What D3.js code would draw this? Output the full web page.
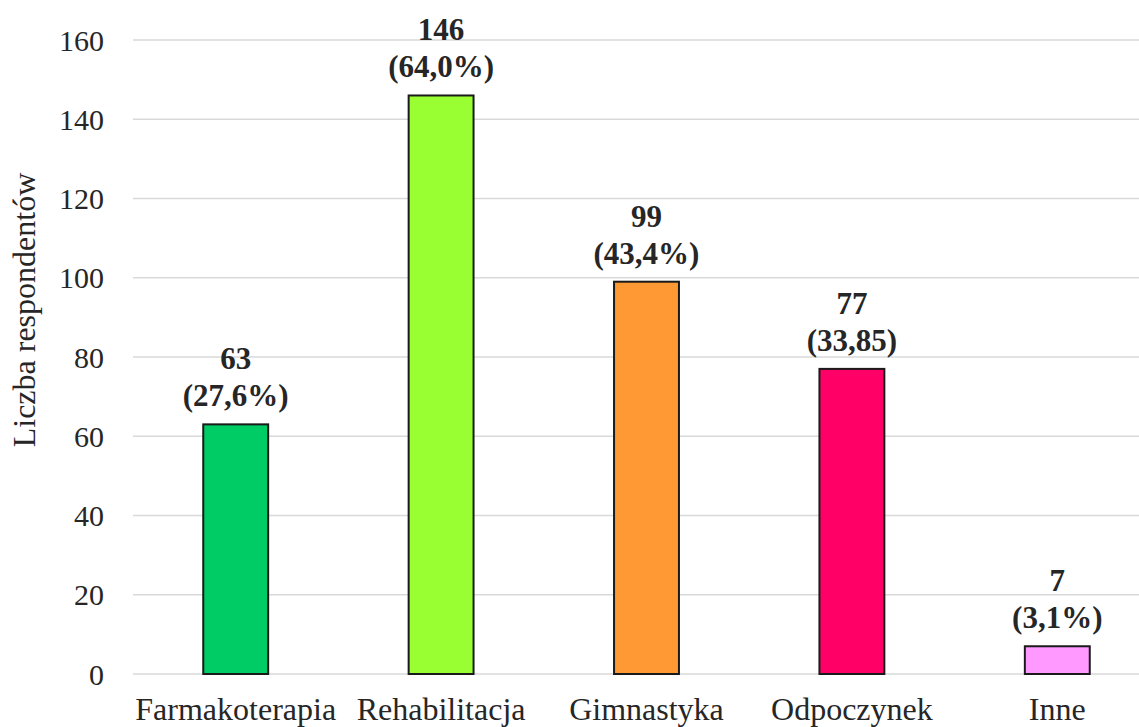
<!DOCTYPE html>
<html>
<head>
<meta charset="utf-8">
<script src="https://cdn.jsdelivr.net/npm/d3@7"></script>
<style>
  html, body { margin: 0; padding: 0; background: #fff; overflow: hidden; }
</style>
</head>
<body>
<div id="chart"></div>
<script>
// Values
const categories = ["Farmakoterapia", "Rehabilitacja", "Gimnastyka", "Odpoczynek", "Inne"];
const counts = [63, 146, 99, 77, 7];
const percentLabels = ["(27,6%)", "(64,0%)", "(43,4%)", "(33,85)", "(3,1%)"];
const barColors = ["#00cc66", "#99ff33", "#ff9933", "#ff0066", "#ff99ff"];
const yTicks = [0, 20, 40, 60, 80, 100, 120, 140, 160];

const width = 1139, height = 727;
const margin = { top: 40, right: -21, bottom: 53, left: 133 };
const serif = "'Liberation Serif', 'Times New Roman'";

const svg = d3.select("#chart").append("svg")
  .attr("width", width)
  .attr("height", height);

const x = d3.scaleBand()
  .domain(categories)
  .range([margin.left, width - margin.right])
  .paddingInner(0.684)
  .paddingOuter(0.342);

const y = d3.scaleLinear()
  .domain([0, 160])
  .range([height - margin.bottom, margin.top]);

// gridlines
svg.append("g")
  .selectAll("line")
  .data(yTicks)
  .join("line")
  .attr("x1", margin.left)
  .attr("x2", width)
  .attr("y1", d => y(d))
  .attr("y2", d => y(d))
  .attr("stroke", "#d9d9d9")
  .attr("stroke-width", 1.5);

// y tick labels
svg.append("g")
  .selectAll("text")
  .data(yTicks)
  .join("text")
  .attr("x", 104)
  .attr("y", d => y(d))
  .attr("dy", "0.35em")
  .attr("text-anchor", "end")
  .style("font-family", serif)
  .attr("font-size", 30)
  .attr("fill", "#262626")
  .text(d => d);

// y axis title
svg.append("text")
  .attr("transform", `translate(35, ${(y(0) + y(160)) / 2 - 47}) rotate(-90)`)
  .attr("text-anchor", "middle")
  .style("font-family", serif)
  .attr("font-size", 32)
  .attr("fill", "#262626")
  .text("Liczba respondentów");

// bars
svg.append("g")
  .selectAll("rect")
  .data(counts)
  .join("rect")
  .attr("x", (d, i) => x(categories[i]))
  .attr("y", d => y(d))
  .attr("width", x.bandwidth())
  .attr("height", d => y(0) - y(d))
  .attr("fill", (d, i) => barColors[i])
  .attr("stroke", "#1a1a1a")
  .attr("stroke-width", 2);

// value labels: count on top, share below it
const labels = svg.append("g")
  .selectAll("g")
  .data(counts)
  .join("g")
  .attr("transform", (d, i) => `translate(${x(categories[i]) + x.bandwidth() / 2}, ${y(d)})`);

labels.append("text")
  .attr("y", -55)
  .attr("text-anchor", "middle")
  .style("font-family", serif)
  .attr("font-size", 31)
  .attr("font-weight", "bold")
  .attr("fill", "#262626")
  .text(d => d);

labels.append("text")
  .attr("y", -18)
  .attr("text-anchor", "middle")
  .style("font-family", serif)
  .attr("font-size", 31)
  .attr("font-weight", "bold")
  .attr("fill", "#262626")
  .text((d, i) => percentLabels[i]);

// category labels
svg.append("g")
  .selectAll("text")
  .data(categories)
  .join("text")
  .attr("x", d => x(d) + x.bandwidth() / 2)
  .attr("y", 720)
  .attr("text-anchor", "middle")
  .style("font-family", serif)
  .attr("font-size", 32)
  .attr("fill", "#262626")
  .text(d => d);
</script>
</body>
</html>
